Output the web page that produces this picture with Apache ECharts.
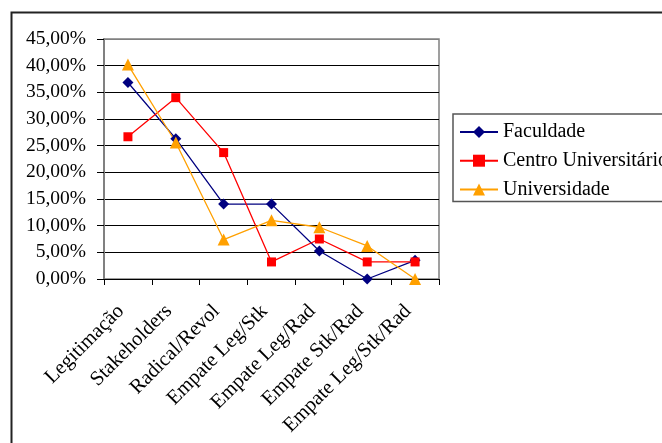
<!DOCTYPE html>
<html>
<head>
<meta charset="utf-8">
<script src="https://cdn.jsdelivr.net/npm/echarts@6/dist/echarts.min.js"></script>
<style>
html,body{margin:0;padding:0;background:#fff;}
#c{width:662px;height:443px;}
</style>
</head>
<body>
<div id="c"></div>
<script>
var categories = ['Legitimação','Stakeholders','Radical/Revol','Empate Leg/Stk','Empate Leg/Rad','Empate Stk/Rad','Empate Leg/Stk/Rad'];
var seriesNames = ['Faculdade','Centro Universitário','Universidade'];
var faculdade = [36.84, 26.32, 14.04, 14.04, 5.26, 0, 3.51];
var centro = [26.67, 34.0, 23.7, 3.2, 7.5, 3.2, 3.2];
var universidade = [40.2, 25.6, 7.4, 11.0, 9.7, 6.2, 0];
var yTicks = {min: 0, max: 45, interval: 5};

var font = 'Liberation Serif';
var chart = echarts.init(document.getElementById('c'));
var gridColors = ['#000','#000','#000','#000','#000','#000','#000','#000','#000','#808080'];
chart.setOption({
  animation: false,
  backgroundColor: '#fff',
  graphic: [{
    type: 'rect', left: 9, top: 10, z: -10, silent: true,
    shape: {x: 0, y: 0, width: 700, height: 500},
    style: {fill: 'none', stroke: '#222', lineWidth: 2}
  }],
  grid: {left: 104, right: 223, top: 39, bottom: 164, show: true, borderColor: '#808080', borderWidth: 1.5, backgroundColor: 'transparent'},
  legend: {
    orient: 'vertical', left: 453, top: 114,
    padding: [8, 40, 2, 6],
    itemWidth: 38, itemHeight: 15, itemGap: 8.7,
    borderColor: '#555', borderWidth: 1.5, backgroundColor: '#fff',
    textStyle: {fontFamily: font, fontSize: 20, color: '#000', lineHeight: 20},
    data: seriesNames
  },
  xAxis: {
    type: 'category', data: categories, boundaryGap: true,
    axisLine: {lineStyle: {color: '#000', width: 1}},
    axisTick: {show: true, alignWithLabel: false, length: 6, lineStyle: {color: '#000'}},
    axisLabel: {rotate: 45, interval: 0, margin: 22, padding: [0, 10, 0, 0], fontFamily: font, fontSize: 20.5, color: '#000'},
    splitLine: {show: false}
  },
  yAxis: {
    type: 'value', min: yTicks.min, max: yTicks.max, interval: yTicks.interval,
    axisLine: {show: true, lineStyle: {color: '#808080', width: 2}},
    axisTick: {show: true, length: 7, lineStyle: {color: '#000'}},
    axisLabel: {margin: 18, fontFamily: font, fontSize: 19.5, color: '#000',
      formatter: function(v){ return v.toFixed(2).replace('.', ',') + '%'; }},
    splitLine: {show: true, lineStyle: {color: gridColors, width: 1}}
  },
  series: [
    {name: seriesNames[0], type: 'line', data: faculdade, symbol: 'diamond', symbolSize: 11,
      itemStyle: {color: '#000080'}, lineStyle: {color: '#000080', width: 1.3}},
    {name: seriesNames[1], type: 'line', data: centro, symbol: 'rect', symbolSize: 9,
      itemStyle: {color: '#FF0000'}, lineStyle: {color: '#FF0000', width: 1.3}},
    {name: seriesNames[2], type: 'line', data: universidade, symbol: 'triangle', symbolSize: 12,
      itemStyle: {color: '#FFA000'}, lineStyle: {color: '#FFA000', width: 1.3}}
  ]
});
</script>
</body>
</html>
